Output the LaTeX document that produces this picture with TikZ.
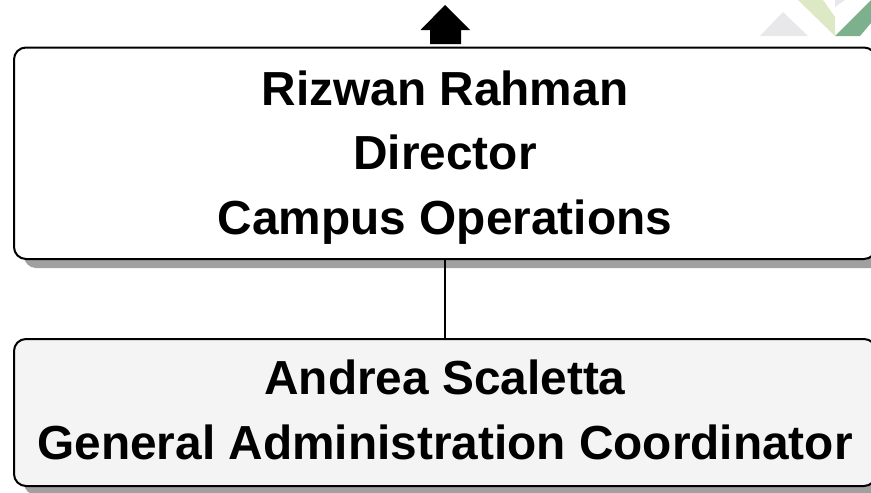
\documentclass[tikz,border=0pt]{standalone}
\usepackage{fontspec}
\setmainfont{Liberation Sans}
\usetikzlibrary{shadows}
\definecolor{shadowgray}{HTML}{A0A0A0}
\definecolor{boxgray}{HTML}{F4F4F4}
\definecolor{logogray}{HTML}{E8E8EA}
\definecolor{logolight}{HTML}{DDE8C4}
\definecolor{logogreen}{HTML}{7DB08C}
\tikzset{
  orgbox/.style={draw=black,line width=2pt,rounded corners=12pt,minimum width=862pt,inner sep=0pt,
    general shadow={shadow xshift=10pt,shadow yshift=-9pt,fill=shadowgray}},
  orgtext/.style={inner sep=0pt,align=center,font=\fontsize{47.8}{64.5}\selectfont\bfseries},
  link/.style={draw=black,line width=1.3pt},
  uparrow/.style={fill=black,draw=none}
}
\begin{document}
\begin{tikzpicture}[x=1pt,y=-1pt]
\useasboundingbox (0,0) rectangle (871,493);
\clip (0,0) rectangle (871,493);
\fill[white] (0,0) rectangle (871,493);
\fill[logogray] (760,36) -- (783,12) -- (808,36) -- cycle;
\fill[logolight] (798,0) -- (823,0) -- (835,17) -- (835,36) -- cycle;
\fill[logogray] (835,0) -- (845,0) -- (835,7) -- cycle;
\fill[logogreen] (835,36) -- (871,0) -- (871,23) -- (860,36) -- cycle;
\node[orgbox,fill=white,minimum height=211.5pt] (director) at (445,153.25) {};
\node[orgtext] (directortext) at ([yshift=-4pt]director.center)
  {Rizwan Rahman\\Director\\Campus Operations};
\node[orgbox,fill=boxgray,minimum height=147pt] (coord) at (445,412.5) {};
\node[orgtext] (coordtext) at ([yshift=2.5pt]coord.center)
  {Andrea Scaletta\\General Administration Coordinator};
\draw[link] (director.south) -- (coord.north);
\fill[uparrow] (445,5) -- (470,30) -- (461,30) -- (461,44) -- (430,44) -- (430,30) -- (420.5,30) -- cycle;
\end{tikzpicture}
\end{document}
